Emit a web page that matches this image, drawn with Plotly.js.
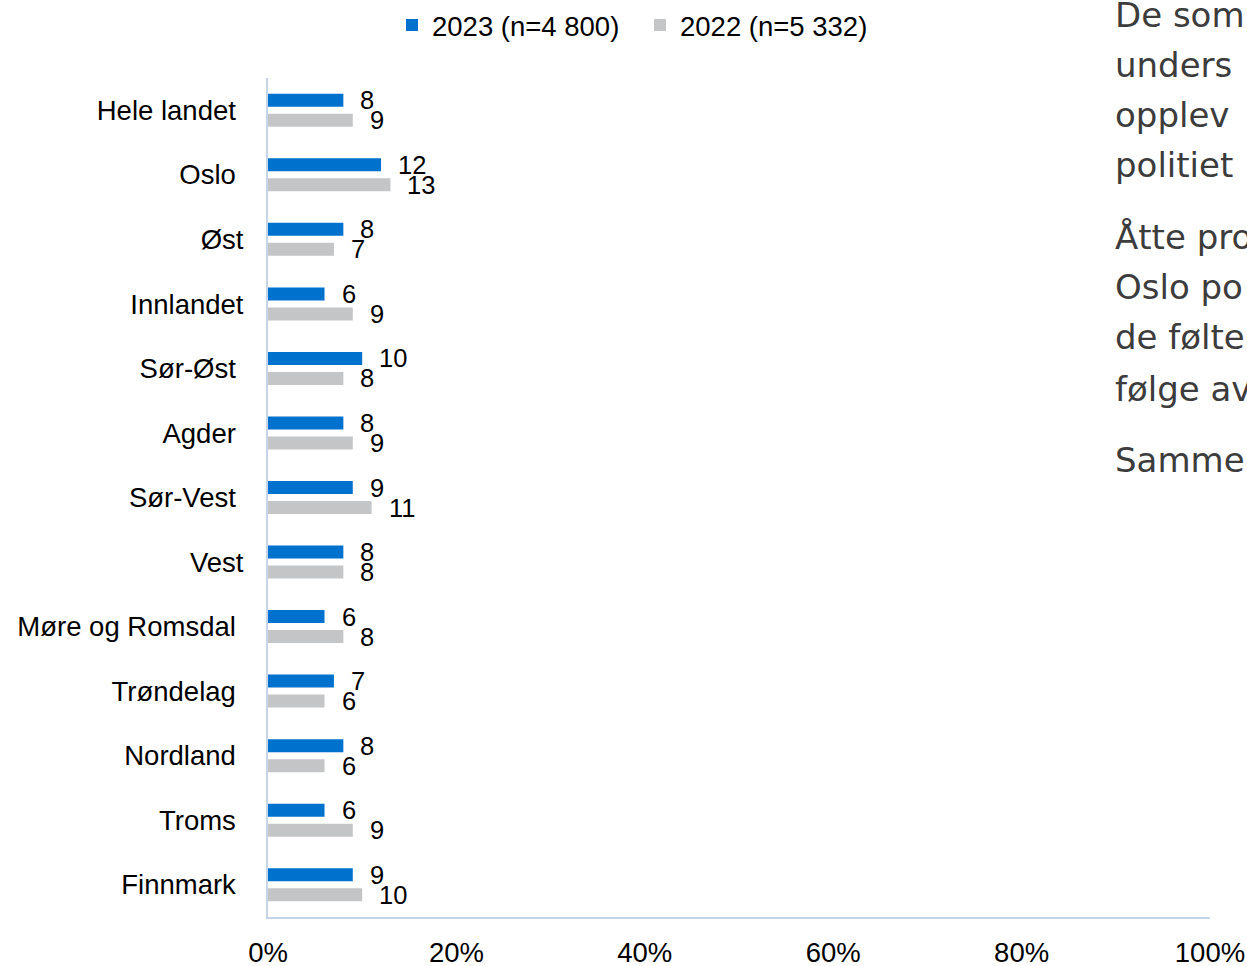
<!DOCTYPE html>
<html>
<head>
<meta charset="utf-8">
<script src="https://cdn.plot.ly/plotly-3.0.1.min.js"></script>
<style>html,body{margin:0;padding:0;background:#fff;overflow:hidden}#chart{width:1247px;height:966px}</style>
</head>
<body>
<div id="chart"></div>
<script>
const categories = ["Hele landet","Oslo","Øst","Innlandet","Sør-Øst","Agder","Sør-Vest","Vest","Møre og Romsdal","Trøndelag","Nordland","Troms","Finnmark"];
const values2023 = [8,12,8,6,10,8,9,8,6,7,8,6,9];
const values2022 = [9,13,7,9,8,9,11,8,8,6,6,9,10];
const name2023 = "2023 (n=4 800)";
const name2022 = "2022 (n=5 332)";
const tickValsX = [0,20,40,60,80,100];
const sideLines = [
  ["De som","unders","opplev","politiet"],
  ["Åtte pro","Oslo po","de følte","følge av"],
  ["Samme"]
];
// labels without trailing space in the original
const noPad = ["Øst","Innlandet","Vest"];

const font = "'Liberation Sans', Arial, sans-serif";
const blue = "#0072CE", gray = "#C4C5C7";

const traces = [
  {type:"bar", orientation:"h", name:name2023, y:categories, x:values2023, marker:{color:blue}, hoverinfo:"x+y"},
  {type:"bar", orientation:"h", name:name2022, y:categories, x:values2022, marker:{color:gray}, hoverinfo:"x+y"}
];

const ann = [];
categories.forEach((c,i)=>{
  ann.push({x:values2023[i], y:c, xref:"x", yref:"y", text:String(values2023[i]), showarrow:false,
    xanchor:"left", yanchor:"middle", xshift:15, yshift:10, font:{family:font,size:25.5,color:"#000"}});
  ann.push({x:values2022[i], y:c, xref:"x", yref:"y", text:String(values2022[i]), showarrow:false,
    xanchor:"left", yanchor:"middle", xshift:15, yshift:-10, font:{family:font,size:25.5,color:"#000"}});
});
// side text (cut off at the right edge)
const plotTop = 78, plotBottom = 917, plotH = plotBottom - plotTop;
const sideX = (1113-268)/942;
const lineYs = [[15,65,115,165],[237,287,337,389],[460]];
sideLines.forEach((par,pi)=>{
  par.forEach((t,li)=>{
    const py = lineYs[pi][li];
    ann.push({x:sideX, y:(plotBottom-py)/plotH, xref:"paper", yref:"paper", text:t, showarrow:false,
      xanchor:"left", yanchor:"middle", font:{family:"'DejaVu Sans', sans-serif", size:34, color:"#3c3c3c"}});
  });
});

const layout = {
  width:1247, height:966,
  margin:{l:268, r:37, t:plotTop, b:966-plotBottom, autoexpand:false},
  paper_bgcolor:"#fff", plot_bgcolor:"#fff",
  font:{family:font, size:27.5, color:"#000"},
  barmode:"group", bargap:0.38, bargroupgap:0.35,
  showlegend:true,
  legend:{orientation:"h", xref:"container", yref:"container", x:392/1247, xanchor:"left", y:1-25/966, yanchor:"middle",
    font:{family:font,size:27.5,color:"#000"}, traceorder:"normal", entrywidth:203},
  xaxis:{range:[0,100], tickvals:tickValsX, ticktext:tickValsX.map(v=>v+"%"), showgrid:false, zeroline:false,
    showline:true, linecolor:"#C6D4E7", linewidth:2, ticks:"", ticklabelstandoff:10, fixedrange:true, automargin:false},
  yaxis:{autorange:"reversed", type:"category", showgrid:false, zeroline:false, showline:true, linecolor:"#C6D4E7", linewidth:2,
    ticks:"", tickvals:categories, ticktext:categories.map(c=>noPad.includes(c)?c:c+"\u00a0"), ticklabelstandoff:17, fixedrange:true, automargin:false},
  annotations:ann
};
Plotly.newPlot("chart", traces, layout, {displayModeBar:false, staticPlot:true});
</script>
</body>
</html>
